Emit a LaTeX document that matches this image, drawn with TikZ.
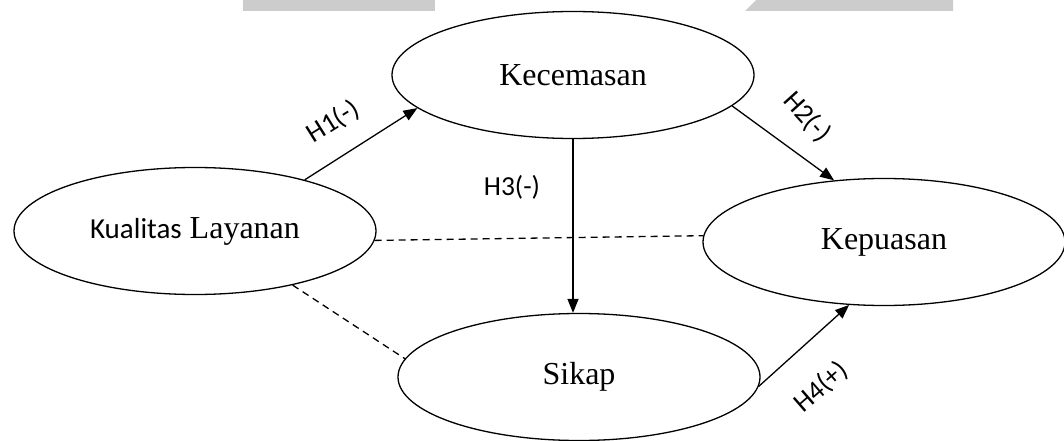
\documentclass[tikz,border=0pt]{standalone}
\usepackage{fontspec}
\setmainfont{Liberation Serif}
\newfontfamily\labelfont{Carlito}
\usetikzlibrary{arrows.meta,shapes.geometric}

\tikzset{
  construct/.style={draw, ellipse, line width=1.3pt, inner sep=0pt,
    minimum width=362pt, minimum height=127pt,
    font=\fontsize{32}{36}\selectfont},
  path/.style={line width=1.3pt, -{Triangle[length=14pt,width=11pt]}},
  link/.style={line width=1.3pt, dash pattern=on 7pt off 5pt},
  hyp/.style={font=\labelfont\fontsize{27.5}{30}\selectfont, inner sep=0pt},
  strip/.style={fill=black!20, draw=none}
}

\begin{document}
\begin{tikzpicture}[x=1pt, y=-1pt]
  \useasboundingbox (0,0) rectangle (1064,441);

  % grey strips along the top edge
  \fill[strip] (243,0) rectangle (435,11);
  \fill[strip] (745,11) -- (756,0) -- (953,0) -- (953,11) -- cycle;

  % constructs
  \node[construct] (kec) at (573,75)  {Kecemasan};
  \node[construct] (kua) at (195,231) {{\labelfont\fontsize{29}{34}\selectfont Kualitas} Layanan};
  \node[construct] (kep) at (884,242) {Kepuasan};
  \node[construct] (sik) at (579,377) {Sikap};

  % hypothesised paths
  \draw[path] (kua.25.7) -- (kec.192);
  \draw[path] (kec.-11.4) -- (kep.129);
  \draw[path] (kec.south) -- (kec.south |- sik.north);
  \draw[path] (sik.-3) -- (kep.241);

  % non-hypothesised links
  \draw[link] (kua.-3) -- (kep.178);
  \draw[link] (kua.-29) -- (sik.174.6);

  % path labels
  \node[hyp, rotate=32]  (h1) at (333,122) {H1(-)};
  \node[hyp, rotate=-48] (h2) at (807,117) {H2(-)};
  \node[hyp]             (h3) at (512,187) {H3(-)};
  \node[hyp, rotate=41]  (h4) at (821,387) {H4(+)};
\end{tikzpicture}
\end{document}
